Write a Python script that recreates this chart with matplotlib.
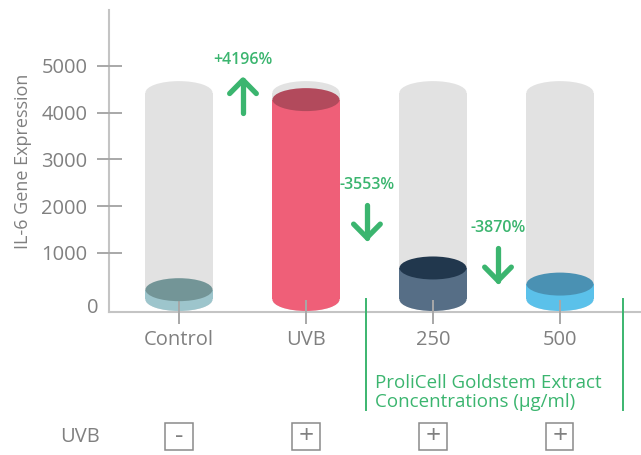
import matplotlib
matplotlib.use('Agg')
import matplotlib.pyplot as plt
from matplotlib.patches import Rectangle, Ellipse

plt.rcParams['font.family'] = ['Open Sans', 'DejaVu Sans']

# --- data ---
categories = ['Control', 'UVB', '250', '500']
il6_values = [210, 4280, 675, 330]
full_value = 4430          # grey "empty glass" behind each cylinder
uvb_signs = ['-', '+', '+', '+']
change_labels = ['+4196%', '-3553%', '-3870%']
change_up = [True, False, False]
yticks = [1000, 2000, 3000, 4000, 5000]

body_colors = ['#9dc5cc', '#ef5f78', '#566e86', '#5bc1ea']
top_colors = ['#739597', '#b24a5c', '#21374d', '#4a91b3']
grey_body = '#e2e2e2'
green = '#3bb56f'
text_grey = '#808080'
line_grey = '#c4c4c4'
tick_grey = '#a8a8a8'

fig = plt.figure(figsize=(6.41, 4.55), dpi=100)
ax = fig.add_axes([109 / 641, (455 - 312) / 455, 532 / 641, 302 / 455])
ax.set_xlim(-0.551, 3.638)
ax.set_ylim(-268, 6199)

# cylinder geometry (data units)
cw = 0.528      # cylinder width
eh = 492        # ellipse height

def cylinder(x, top, body, cap, z):
    ax.add_patch(Ellipse((x, 0), cw, eh, facecolor=body, edgecolor='none', zorder=z))
    ax.add_patch(Rectangle((x - cw / 2, 0), cw, top, facecolor=body, edgecolor='none', zorder=z))
    ax.add_patch(Ellipse((x, top), cw, eh, facecolor=cap, edgecolor='none', zorder=z + 0.1))

for i, v in enumerate(il6_values):
    cylinder(i, full_value, grey_body, grey_body, 1)
    cylinder(i, v, body_colors[i], top_colors[i], 1.5)

# axes styling
for s in ['top', 'right']:
    ax.spines[s].set_visible(False)
for s in ['left', 'bottom']:
    ax.spines[s].set_color(line_grey)
    ax.spines[s].set_linewidth(1.5)
    ax.spines[s].set_zorder(0.5)

ax.set_yticks(yticks)
ax.set_yticklabels([str(t) for t in yticks])
ax.tick_params(axis='y', direction='inout', length=18, width=1.4, color=tick_grey,
               labelcolor=text_grey, labelsize=14.5, pad=6.5)
ax.set_xticks(range(len(categories)))
ax.set_xticklabels(categories)
ax.tick_params(axis='x', direction='inout', length=17.3, width=1.4, color=tick_grey,
               labelcolor=text_grey, labelsize=14.5, pad=4)
ax.text(-0.019, -182, '0', transform=ax.get_yaxis_transform(), ha='right', va='center',
        fontsize=14.5, color=text_grey)
ax.set_ylabel('IL-6 Gene Expression', fontsize=13, color=text_grey, labelpad=7)

# change arrows and percentages
arrow_x = [0.504, 1.48, 2.512]
arrow_top = [4700, 2024, 1103]
arrow_len = 700
for x, top, lab, up in zip(arrow_x, arrow_top, change_labels, change_up):
    bottom = top - arrow_len
    ax.plot([x, x], [bottom, top], color=green, lw=3.8, solid_capstyle='round', zorder=3)
    tip = top if up else bottom
    d = -1 if up else 1
    ax.plot([x - 0.105, x, x + 0.105], [tip + d * 290, tip, tip + d * 290], color=green,
            lw=3.8, solid_capstyle='round', solid_joinstyle='round', zorder=3)
    ax.text(x, top + 420, lab, ha='center', va='center', fontsize=11.5, color=green,
            fontweight='semibold')

# extract bracket
for gx in [1.472, 3.494]:
    ax.plot([gx, gx], [0, -2366], color=green, lw=1.4, clip_on=False, zorder=3)
ax.text(1.543, -1991, 'ProliCell Goldstem Extract\nConcentrations (\u00b5g/ml)', ha='left',
        va='center', fontsize=13.5, color=green, linespacing=1.1)

# UVB row
row_y = -2944
bw, bh = 0.213, 578
ax.text(-0.78, row_y, 'UVB', ha='center', va='center', fontsize=14.5, color=text_grey)
for i, s in enumerate(uvb_signs):
    ax.add_patch(Rectangle((i - bw / 2, row_y - bh / 2), bw, bh, facecolor='none',
                           edgecolor='#8a8a8a', lw=1.1, clip_on=False))
    ax.text(i, row_y + 20, s, ha='center', va='center', fontsize=19, color=text_grey)

fig.savefig('out.png', dpi=100)
